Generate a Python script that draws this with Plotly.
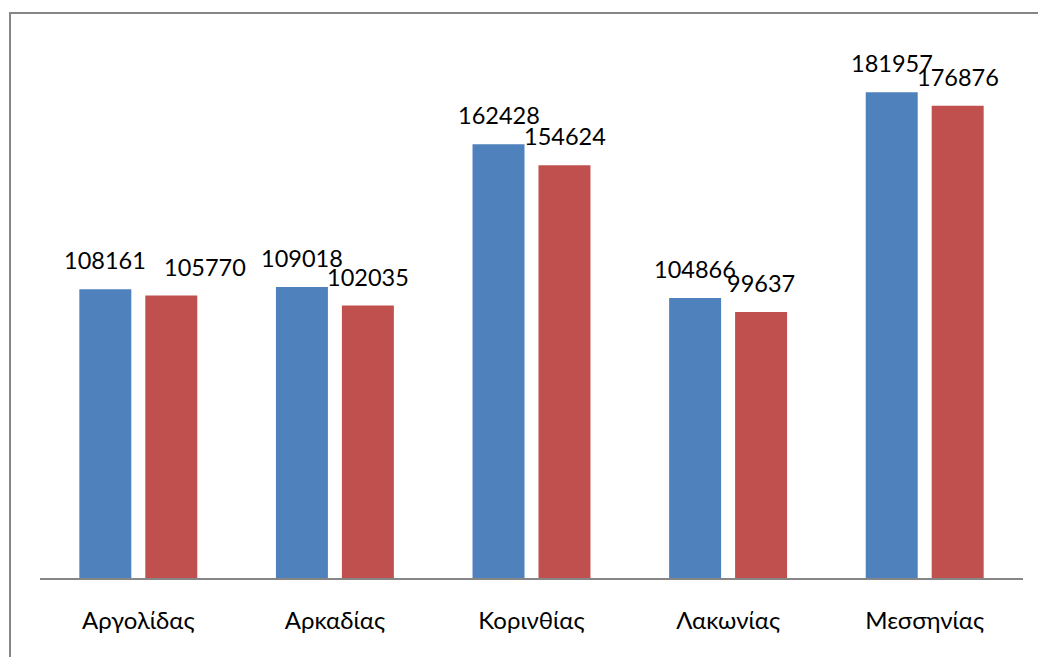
import plotly.graph_objects as go

categories = ["Αργολίδας", "Αρκαδίας", "Κορινθίας", "Λακωνίας", "Μεσσηνίας"]
series_a = [108161, 109018, 162428, 104866, 181957]
series_b = [105770, 102035, 154624, 99637, 176876]

FONT = "Lato, 'Open Sans', 'DejaVu Sans', sans-serif"
BLUE = "#4F81BD"
RED = "#C0504D"
BAR_OFFSET = 33  # px from category centre to each bar centre
# extra horizontal nudges of labels (as in the original, one label moved to avoid overlap)
label_nudge_b = {"Αργολίδας": 34}

fig = go.Figure()
fig.add_trace(go.Bar(x=categories, y=series_a, marker=dict(color=BLUE, line=dict(width=0)), name="A"))
fig.add_trace(go.Bar(x=categories, y=series_b, marker=dict(color=RED, line=dict(width=0)), name="B"))

annotations = []
for vals, shift, nudges in ((series_a, -BAR_OFFSET, {}), (series_b, BAR_OFFSET, label_nudge_b)):
    for c, v in zip(categories, vals):
        annotations.append(dict(x=c, y=v, xref="x", yref="y", text=str(v), showarrow=False,
                                xshift=shift + nudges.get(c, 0), yshift=13,
                                yanchor="bottom", xanchor="center",
                                font=dict(family=FONT, size=23.5, color="black")))

fig.update_layout(
    width=1038, height=657,
    margin=dict(l=40, r=15, t=44, b=79),
    paper_bgcolor="white", plot_bgcolor="white",
    showlegend=False,
    barmode="group", bargap=0.329, bargroupgap=0.212,
    annotations=annotations,
    xaxis=dict(showline=True, linecolor="#868686", linewidth=2, showgrid=False,
               ticks="outside", ticklen=20, tickcolor="rgba(0,0,0,0)",
               tickfont=dict(family=FONT, size=24, color="black")),
    yaxis=dict(range=[0, 200000], visible=False, showgrid=False),
    shapes=[dict(type="rect", xref="paper", yref="paper", x0=-0.0305, x1=1.2, y0=-0.3, y1=1.058,
                 line=dict(color="#868686", width=2), fillcolor="rgba(0,0,0,0)", layer="above")],
)
fig.write_html("out.html", config={"displayModeBar": False},
               post_script="document.body.style.margin='0';document.body.style.padding='0';")
